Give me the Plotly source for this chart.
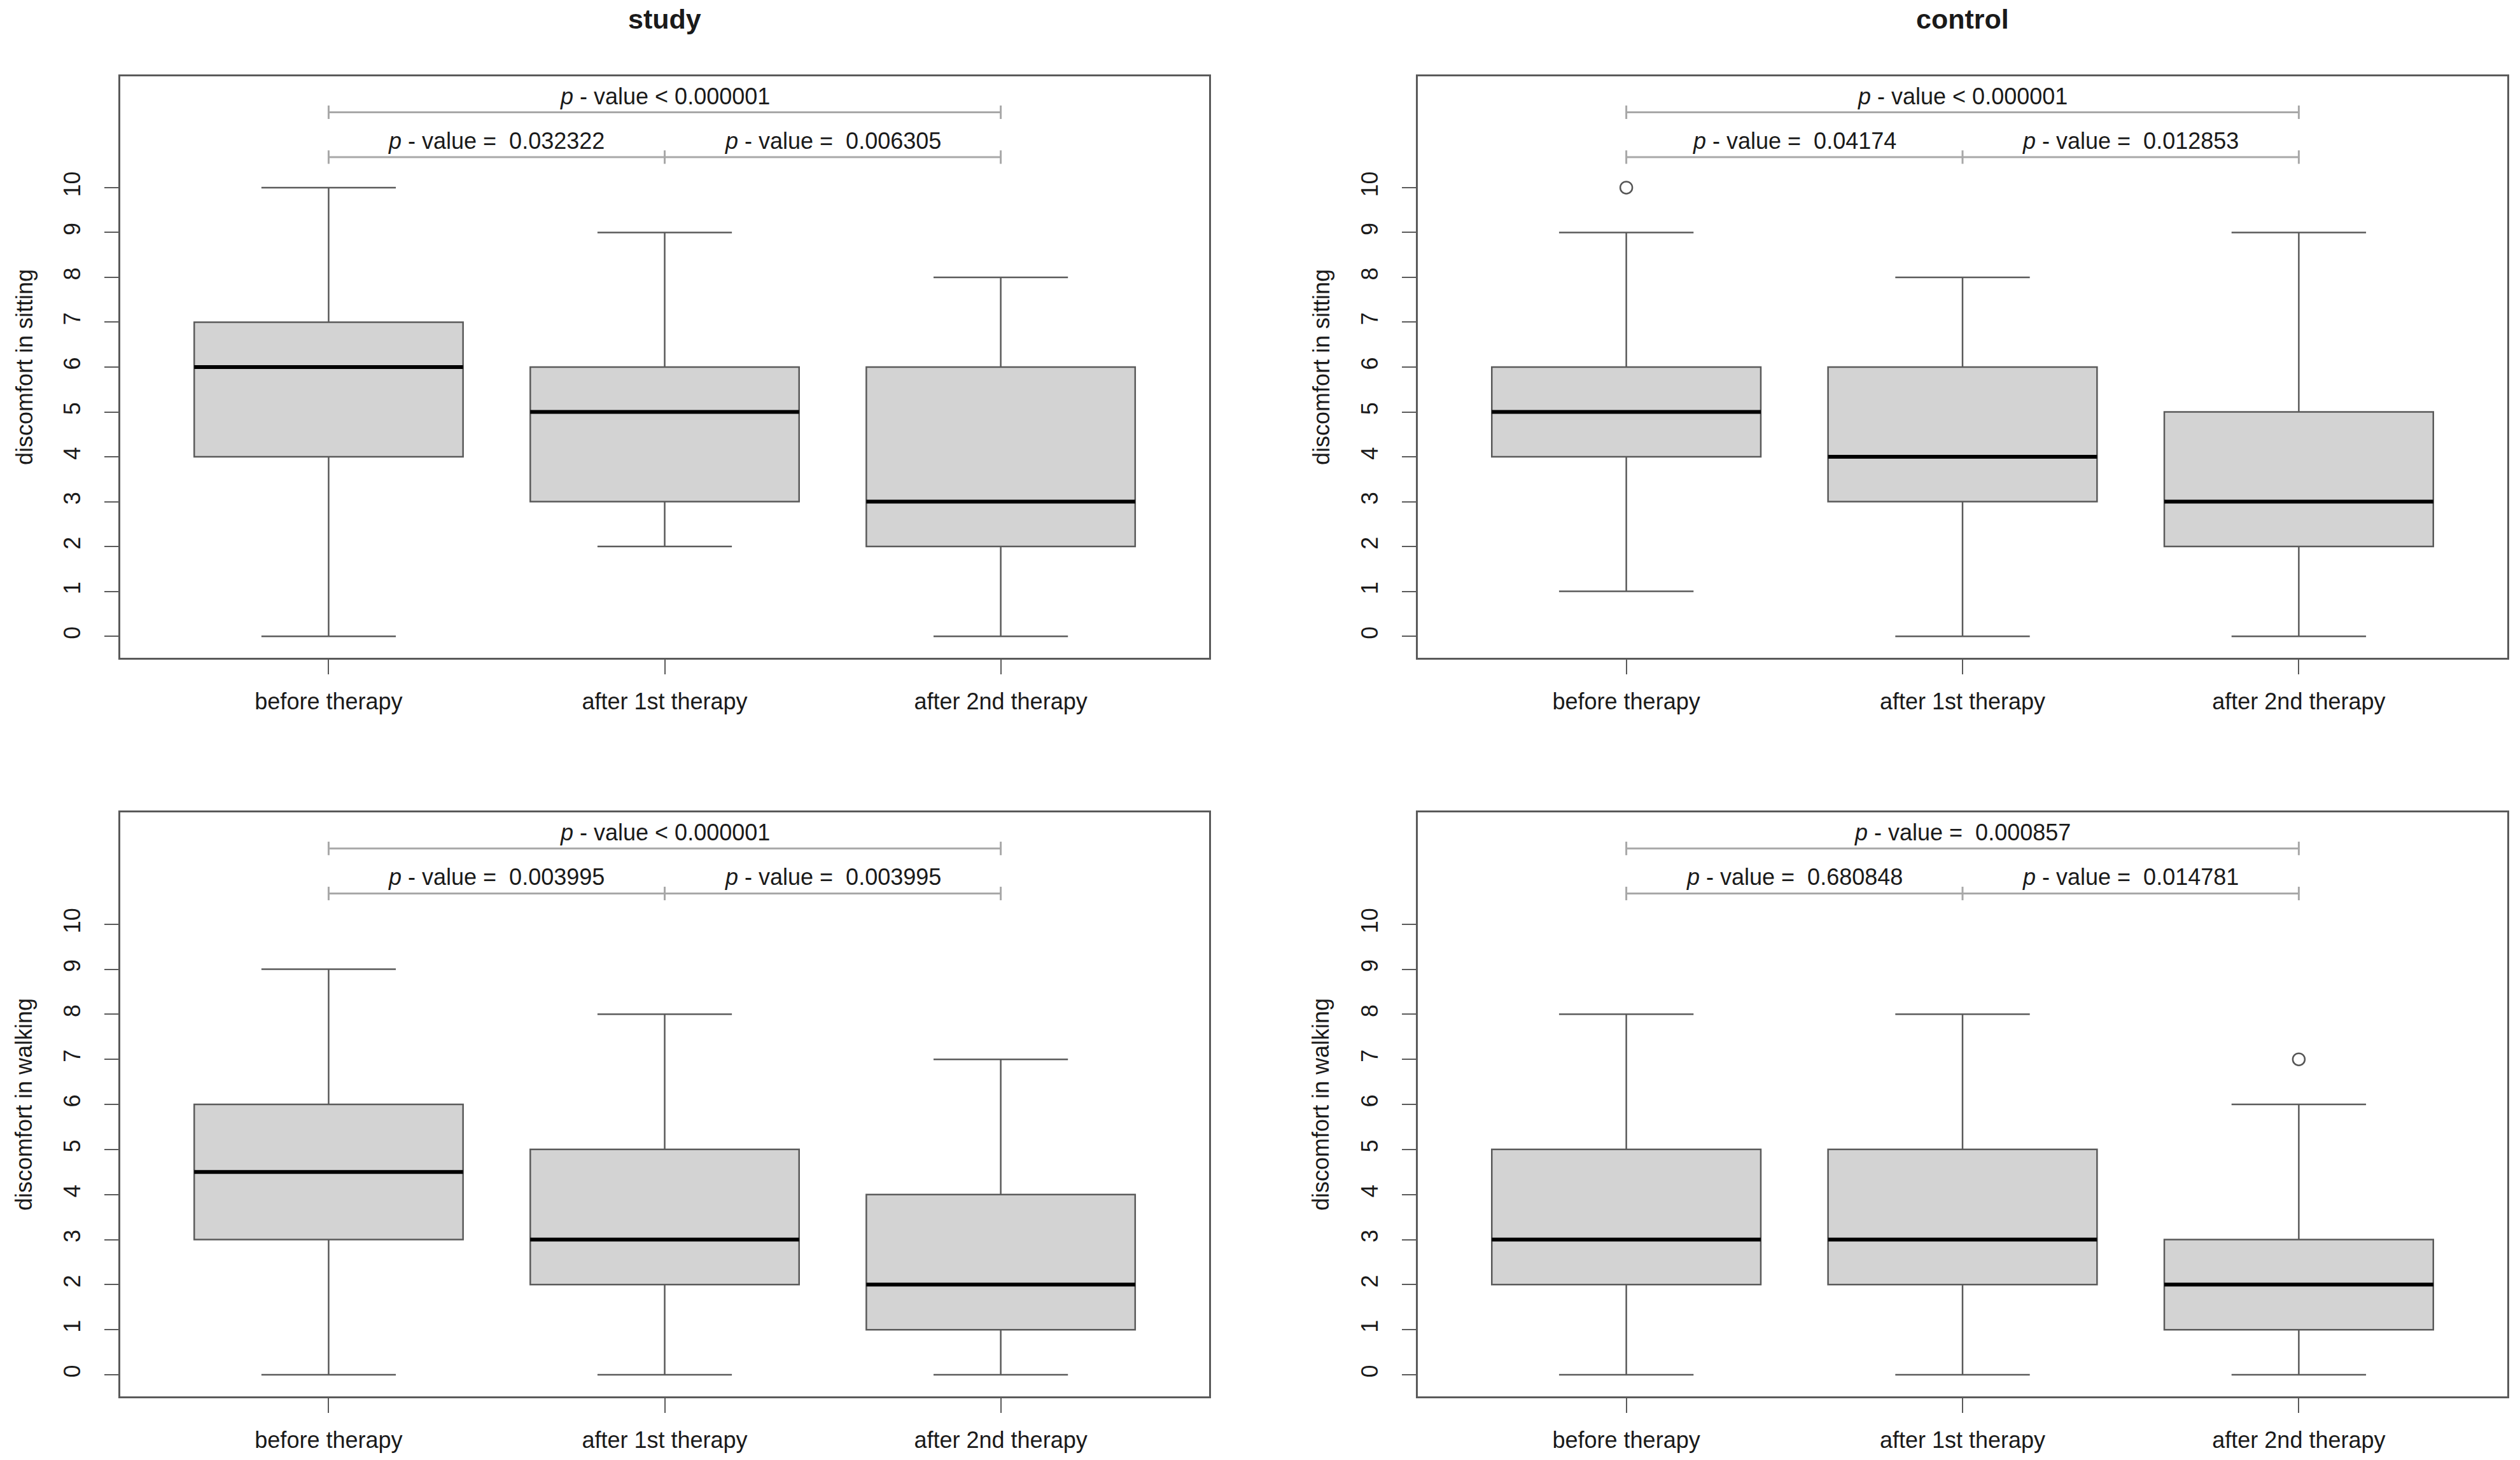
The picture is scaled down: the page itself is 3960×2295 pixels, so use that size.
import plotly.graph_objects as go

# ---------------- data ----------------
categories = ["before therapy", "after 1st therapy", "after 2nd therapy"]
positions = [1, 2, 3]
y_ticks = [0, 1, 2, 3, 4, 5, 6, 7, 8, 9, 10]

# study - sitting
study_sitting_lower = [0, 2, 0]
study_sitting_q1 = [4, 3, 2]
study_sitting_median = [6, 5, 3]
study_sitting_q3 = [7, 6, 6]
study_sitting_upper = [10, 9, 8]
study_sitting_outliers = [[], [], []]
study_sitting_p = ["< 0.000001", "=  0.032322", "=  0.006305"]

# control - sitting
control_sitting_lower = [1, 0, 0]
control_sitting_q1 = [4, 3, 2]
control_sitting_median = [5, 4, 3]
control_sitting_q3 = [6, 6, 5]
control_sitting_upper = [9, 8, 9]
control_sitting_outliers = [[10], [], []]
control_sitting_p = ["< 0.000001", "=  0.04174", "=  0.012853"]

# study - walking
study_walking_lower = [0, 0, 0]
study_walking_q1 = [3, 2, 1]
study_walking_median = [4.5, 3, 2]
study_walking_q3 = [6, 5, 4]
study_walking_upper = [9, 8, 7]
study_walking_outliers = [[], [], []]
study_walking_p = ["< 0.000001", "=  0.003995", "=  0.003995"]

# control - walking
control_walking_lower = [0, 0, 0]
control_walking_q1 = [2, 2, 1]
control_walking_median = [3, 3, 2]
control_walking_q3 = [5, 5, 3]
control_walking_upper = [8, 8, 6]
control_walking_outliers = [[], [], [7]]
control_walking_p = ["=  0.000857", "=  0.680848", "=  0.014781"]

group_titles = ["study", "control"]
y_titles = ["discomfort in sitting", "discomfort in walking"]

# ---------------- styling / layout ----------------
W, H = 3960, 2295
FONT = "Liberation Sans, Arial, Helvetica, sans-serif"
FS = 36
FRAME = "#5a5a5a"
BOX_LINE = "#5a5a5a"
FILL = "#d3d3d3"
BRACKET = "#a8a8a8"
TEXT = "#1a1a1a"

x_dom = [[189 / W, 1900 / W], [2228 / W, 3940 / W]]
y_dom = [[1 - 1034 / H, 1 - 120 / H], [1 - 2195 / H, 1 - 1277 / H]]
x_range = [0.38, 3.62]
y_range = [-0.48, 12.48]
box_width = 0.8
bracket_low, bracket_high = 10.68, 11.68
label_low, label_high = 11.04, 12.04
tick_half = 0.15

panels = [
    (0, 0, study_sitting_lower, study_sitting_q1, study_sitting_median, study_sitting_q3,
     study_sitting_upper, study_sitting_outliers, study_sitting_p),
    (0, 1, control_sitting_lower, control_sitting_q1, control_sitting_median, control_sitting_q3,
     control_sitting_upper, control_sitting_outliers, control_sitting_p),
    (1, 0, study_walking_lower, study_walking_q1, study_walking_median, study_walking_q3,
     study_walking_upper, study_walking_outliers, study_walking_p),
    (1, 1, control_walking_lower, control_walking_q1, control_walking_median, control_walking_q3,
     control_walking_upper, control_walking_outliers, control_walking_p),
]

fig = go.Figure()
annotations = []
layout_axes = {}

for idx, (row, col, lo, q1, med, q3, up, outl, pv) in enumerate(panels):
    n = idx + 1
    xa = "x" if n == 1 else f"x{n}"
    ya = "y" if n == 1 else f"y{n}"
    xkey = "xaxis" if n == 1 else f"xaxis{n}"
    ykey = "yaxis" if n == 1 else f"yaxis{n}"

    fig.add_trace(go.Box(
        x=positions, q1=q1, median=med, q3=q3, lowerfence=lo, upperfence=up,
        width=box_width, whiskerwidth=0.5, fillcolor=FILL,
        line=dict(color=BOX_LINE, width=2.5), boxpoints=False,
        xaxis=xa, yaxis=ya, hoverinfo="skip", showlegend=False,
    ))

    # thick median lines
    mx, my = [], []
    for p, m in zip(positions, med):
        mx += [p - box_width / 2, p + box_width / 2, None]
        my += [m, m, None]
    fig.add_trace(go.Scatter(x=mx, y=my, mode="lines",
                             line=dict(color="#000000", width=6),
                             xaxis=xa, yaxis=ya, hoverinfo="skip", showlegend=False))

    # outliers
    ox, oy = [], []
    for p, vals in zip(positions, outl):
        for v in vals:
            ox.append(p)
            oy.append(v)
    if ox:
        fig.add_trace(go.Scatter(x=ox, y=oy, mode="markers",
                                 marker=dict(symbol="circle-open", size=19, color="#555555",
                                             line=dict(color="#555555", width=2.5)),
                                 xaxis=xa, yaxis=ya, hoverinfo="skip", showlegend=False))

    # p-value brackets
    a, b, c = positions
    bx = [a, c, None, a, a, None, c, c, None,
          a, c, None, a, a, None, b, b, None, c, c]
    by = [bracket_high, bracket_high, None,
          bracket_high - tick_half, bracket_high + tick_half, None,
          bracket_high - tick_half, bracket_high + tick_half, None,
          bracket_low, bracket_low, None,
          bracket_low - tick_half, bracket_low + tick_half, None,
          bracket_low - tick_half, bracket_low + tick_half, None,
          bracket_low - tick_half, bracket_low + tick_half]
    fig.add_trace(go.Scatter(x=bx, y=by, mode="lines",
                             line=dict(color=BRACKET, width=3),
                             xaxis=xa, yaxis=ya, hoverinfo="skip", showlegend=False))

    def ptxt(s):
        s = s.replace("<", "&lt;").replace("  ", " \u00a0")
        return "<i>p</i> - value " + s

    for tx, ty, s in [((a + c) / 2, label_high, pv[0]),
                      ((a + b) / 2, label_low, pv[1]),
                      ((b + c) / 2, label_low, pv[2])]:
        annotations.append(dict(x=tx, y=ty, xref=xa, yref=ya, text=ptxt(s),
                                showarrow=False, xanchor="center", yanchor="middle",
                                font=dict(family=FONT, size=FS, color=TEXT)))

    layout_axes[xkey] = dict(
        domain=x_dom[col], range=x_range, anchor=ya,
        tickmode="array", tickvals=positions, ticktext=categories,
        ticks="outside", ticklen=23, tickwidth=2, tickcolor=FRAME,
        showline=True, mirror=True, linecolor=FRAME, linewidth=3,
        showgrid=False, zeroline=False, ticklabelstandoff=12,
        tickfont=dict(family=FONT, size=FS, color=TEXT),
    )
    layout_axes[ykey] = dict(
        domain=y_dom[row], range=y_range, anchor=xa,
        tickmode="array", tickvals=y_ticks, ticktext=[str(v) for v in y_ticks],
        tickangle=-90,
        ticks="outside", ticklen=22, tickwidth=2, tickcolor=FRAME,
        showline=True, mirror=True, linecolor=FRAME, linewidth=3,
        showgrid=False, zeroline=False, ticklabelstandoff=24,
        tickfont=dict(family=FONT, size=FS, color=TEXT),
    )

# group titles
for col, t in enumerate(group_titles):
    annotations.append(dict(x=(x_dom[col][0] + x_dom[col][1]) / 2, y=1 - 30 / H,
                            xref="paper", yref="paper", text=f"<b>{t}</b>",
                            showarrow=False, xanchor="center", yanchor="middle",
                            font=dict(family=FONT, size=43, color=TEXT)))

# y axis titles
for row, t in enumerate(y_titles):
    for col in range(2):
        xpix = 38 if col == 0 else 38 + 2038
        annotations.append(dict(x=xpix / W, y=(y_dom[row][0] + y_dom[row][1]) / 2,
                                xref="paper", yref="paper", text=t, textangle=-90,
                                showarrow=False, xanchor="center", yanchor="middle",
                                font=dict(family=FONT, size=FS, color=TEXT)))

fig.update_layout(
    width=W, height=H, margin=dict(l=0, r=0, t=0, b=0),
    paper_bgcolor="white", plot_bgcolor="white", showlegend=False,
    annotations=annotations, **layout_axes,
)

fig.write_html("out.html", config={"displayModeBar": False},
               post_script="document.body.style.margin='0';document.body.style.overflow='hidden';")
